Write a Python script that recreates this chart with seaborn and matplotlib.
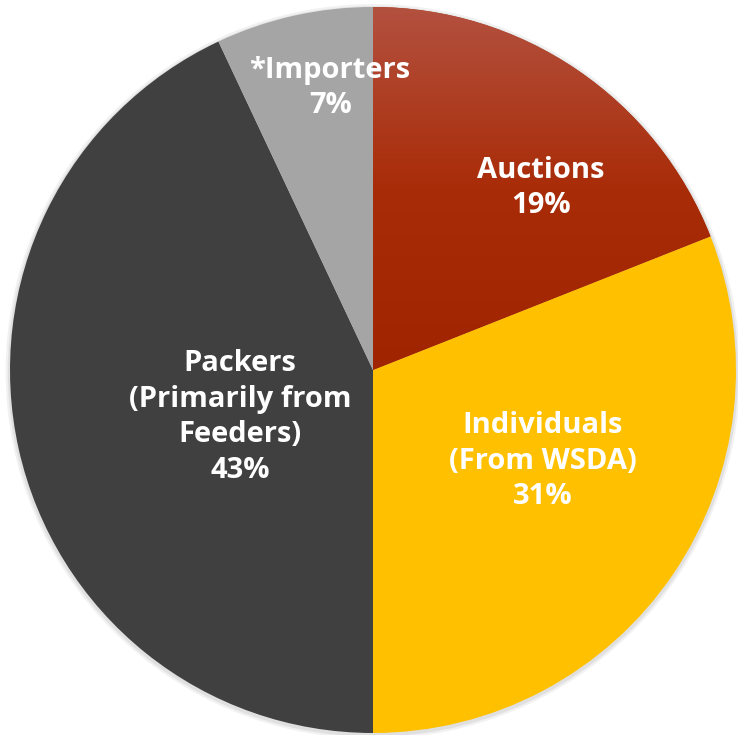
import matplotlib
matplotlib.use("Agg")
import matplotlib.pyplot as plt
import numpy as np
import seaborn as sns
from matplotlib.colors import LinearSegmentedColormap

# data
categories = ["Auctions", "Individuals\n(From WSDA)", "Packers\n(Primarily from\nFeeders)", "*Importers"]
shares = [19, 31, 43, 7]
colors = ["#A8300F", "#FFC000", "#404040", "#A5A5A5"]

# label anchor points (axes data units, pie radius = 1)
label_xy = [(0.463, 0.501), (0.468, -0.251), (-0.366, -0.129), (-0.118, 0.777)]

sns.set_theme(style="white")
plt.rcParams["font.family"] = ["Open Sans", "DejaVu Sans"]

fig = plt.figure(figsize=(7.38, 7.35), dpi=100)
ax = fig.add_axes([0, 0, 1, 1])

# faint shadow round the rim
for r, a in [(1.012, 0.10), (1.006, 0.15)]:
    ax.add_patch(plt.Circle((0.0, -0.004), r, color="#7f7f7f", alpha=a, lw=0, zorder=0))

wedges, _ = ax.pie(shares, colors=colors, startangle=90, counterclock=False,
                   radius=1, center=(0, 0), wedgeprops=dict(linewidth=0))

# gradient on the auctions slice
grad = LinearSegmentedColormap.from_list("auc", ["#A02400", "#A92C08", "#B3513F"])
g = np.linspace(0, 1, 256).reshape(-1, 1)
im = ax.imshow(g, cmap=grad, origin="lower", extent=[0, 1.0, 0, 1.0],
               aspect="auto", zorder=wedges[0].get_zorder() + 0.1)
im.set_clip_path(wedges[0])

for cat, pct, (x, y) in zip(categories, shares, label_xy):
    ax.text(x, y, f"{cat}\n{pct}%", ha="center", va="center", color="white",
            fontsize=21, fontweight="bold", linespacing=1.3, zorder=5)

scale = 363.0
ax.set_xlim(-373 / scale, (738 - 373) / scale)
ax.set_ylim(-(735 - 370) / scale, 370 / scale)
ax.set_aspect("auto")
ax.axis("off")

fig.savefig("out.png", dpi=100, facecolor="white")
